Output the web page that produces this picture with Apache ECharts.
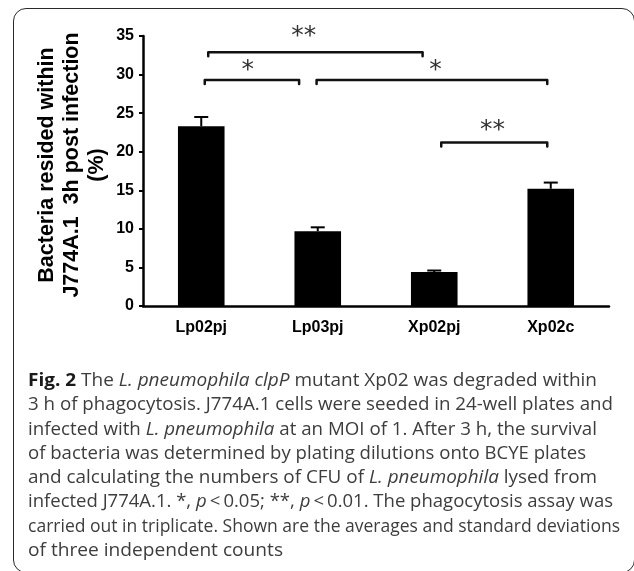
<!DOCTYPE html>
<html>
<head>
<meta charset="utf-8">
<script src="https://cdn.jsdelivr.net/npm/echarts@6/dist/echarts.min.js"></script>
<style>
  html, body { margin: 0; padding: 0; background: #fff; }
  #page { position: relative; width: 634px; height: 571px; overflow: hidden; }
  #box {
    position: absolute; left: 13px; top: 8px; width: 622px; height: 565px;
    border: 1.6px solid #2a2a2a; border-radius: 13px; box-sizing: border-box;
  }
  #main { position: absolute; left: 0; top: 0; width: 634px; height: 571px; }
  #caption {
    position: absolute; left: 28px; top: 367px;
    font-family: 'Open Sans', sans-serif; color: #3d3d3d;
    white-space: nowrap; line-height: 24.3px; font-size: 18.5px;
  }
  #caption div { width: max-content; transform-origin: left top; }
  #caption b { color: #1a1a1a; }
</style>
</head>
<body>
<div id="page">
  <div id="box"></div>
  <div id="main"></div>
  <div id="caption"></div>
</div>
<script>
var categories = ['Lp02pj', 'Lp03pj', 'Xp02pj', 'Xp02c'];
var means = [23.3, 9.7, 4.4, 15.2];
var sds = [1.2, 0.5, 0.2, 0.8];

// significance brackets: x in category units, y in % units
var bracketStart = [0.06, 0.03, 0.99, 2.06];
var bracketEnd = [1.90, 0.84, 2.97, 2.97];
var bracketLevel = [32.9, 29.3, 29.3, 21.2];
var bracketLabelX = [0.88, 0.40, 2.01, 2.50];
var bracketLabelLevel = [35.6, 31.3, 31.3, 23.5];
var bracketLabel = ['**', '*', '*', '**'];

var yTitle = 'Bacteria resided within\nJ774A.1  3h post infection\n(%)';

var captionLines = [
    '<b>Fig. 2</b> The <i>L. pneumophila clpP</i> mutant Xp02 was degraded within',
    '3 h of phagocytosis. J774A.1 cells were seeded in 24-well plates and',
    'infected with <i>L. pneumophila</i> at an MOI of 1. After 3 h, the survival',
    'of bacteria was determined by plating dilutions onto BCYE plates',
    'and calculating the numbers of CFU of <i>L. pneumophila</i> lysed from',
    'infected J774A.1. *, <i>p</i>&thinsp;&lt;&thinsp;0.05; **, <i>p</i>&thinsp;&lt;&thinsp;0.01. The phagocytosis assay was',
    'carried out in triplicate. Shown are the averages and standard deviations',
    'of three independent counts'
];
// where each caption line ends in the reference (px from the left of the text)
var captionLineWidths = [569, 585, 569, 558, 569, 585, 592, 255];

var cap = document.getElementById('caption');
captionLines.forEach(function (html, i) {
    var d = document.createElement('div');
    d.innerHTML = html;
    cap.appendChild(d);
    var w = d.getBoundingClientRect().width;
    d.style.transform = 'scaleX(' + (captionLineWidths[i] / w).toFixed(4) + ')';
});

var errData = means.map(function (m, i) { return [i, m, m + sds[i]]; });
var bracketData = bracketStart.map(function (s, i) {
    return [s, bracketEnd[i], bracketLevel[i], bracketLabelX[i], bracketLabelLevel[i], i];
});

var myChart = echarts.init(document.getElementById('main'));

var option = {
    animation: false,
    textStyle: { fontFamily: 'Liberation Sans, Arial, sans-serif' },
    grid: { left: 143, right: 25, top: 36, bottom: 265 },
    xAxis: [{
        type: 'category',
        data: categories,
        axisLine: { lineStyle: { color: '#000', width: 2.5 } },
        axisTick: { length: 5, lineStyle: { color: '#000', width: 2 } },
        axisLabel: { color: '#000', fontSize: 16, fontWeight: 'bold', margin: 14 },
    }, {
        type: 'value',
        min: -0.5,
        max: 3.5,
        show: false,
    }],
    yAxis: {
        type: 'value',
        min: 0,
        max: 35,
        interval: 5,
        name: yTitle,
        nameLocation: 'middle',
        nameRotate: 90,
        nameGap: 33,
        nameMoveOverlap: false,
        nameTextStyle: {
            color: '#000', fontSize: 21.5, fontWeight: 'bold', lineHeight: 25,
            padding: [0, 0, 0, 12]
        },
        axisLine: { show: true, onZero: false, lineStyle: { color: '#000', width: 2.5 } },
        axisTick: { show: true, length: 4, lineStyle: { color: '#000', width: 2 } },
        axisLabel: { color: '#000', fontSize: 16, fontWeight: 'bold', margin: 9 },
        splitLine: { show: false },
    },
    series: [{
        type: 'bar',
        data: means,
        barWidth: '40%',
        itemStyle: { color: '#000' },
        z: 2,
    }, {
        type: 'custom',
        data: errData,
        z: 3,
        renderItem: function (params, api) {
            var base = api.coord([api.value(0), api.value(1)]);
            var top = api.coord([api.value(0), api.value(2)]);
            var hw = 7;
            return {
                type: 'group',
                children: [{
                    type: 'line',
                    shape: { x1: top[0], y1: base[1], x2: top[0], y2: top[1] },
                    style: { stroke: '#000', lineWidth: 2 }
                }, {
                    type: 'line',
                    shape: { x1: top[0] - hw, y1: top[1], x2: top[0] + hw, y2: top[1] },
                    style: { stroke: '#000', lineWidth: 2 }
                }]
            };
        }
    }, {
        type: 'custom',
        xAxisIndex: 1,
        data: bracketData,
        z: 3,
        renderItem: function (params, api) {
            var a = api.coord([api.value(0), api.value(2)]);
            var b = api.coord([api.value(1), api.value(2)]);
            var t = api.coord([api.value(3), api.value(4)]);
            var drop = 4;
            return {
                type: 'group',
                children: [{
                    type: 'polyline',
                    shape: { points: [[a[0], a[1] + drop], [a[0], a[1]], [b[0], b[1]], [b[0], b[1] + drop]] },
                    style: { stroke: '#111', lineWidth: 2.5, fill: null, lineJoin: 'round', lineCap: 'round' }
                }, {
                    type: 'text',
                    style: {
                        // the asterisk sits high in its box, so anchor the box bottom below it
                        text: bracketLabel[api.value(5)],
                        x: t[0],
                        y: t[1] + 18,
                        align: 'center',
                        verticalAlign: 'bottom',
                        font: '25px DejaVu Sans',
                        fill: '#333'
                    }
                }]
            };
        }
    }]
};
myChart.setOption(option);
</script>
</body>
</html>
